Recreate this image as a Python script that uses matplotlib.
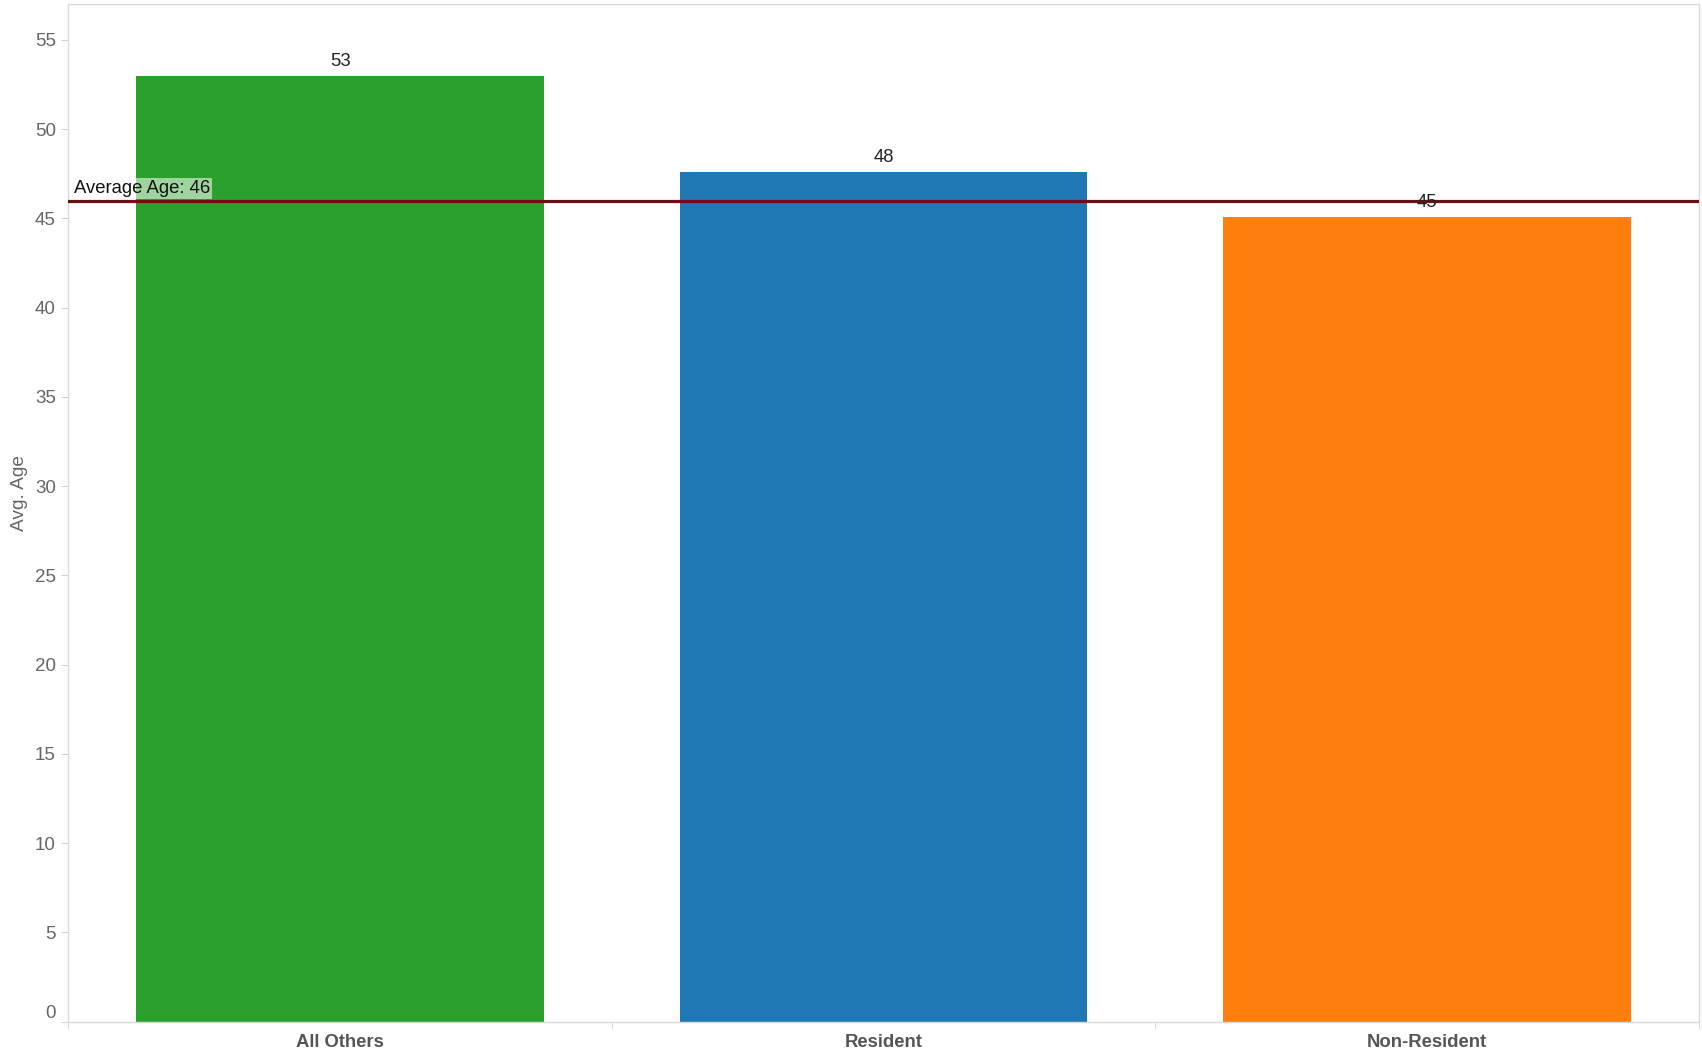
import matplotlib.pyplot as plt
from matplotlib.ticker import FixedLocator
import matplotlib.transforms as mtransforms

plt.rcParams['font.family'] = ['Liberation Sans', 'DejaVu Sans']

categories = ["All Others", "Resident", "Non-Resident"]
avg_age = [53.0, 47.6, 45.1]
bar_colors = ["#2ca02c", "#1f77b4", "#ff7f0e"]
overall_avg = 46.0
y_ticks = [0, 5, 10, 15, 20, 25, 30, 35, 40, 45, 50, 55]

fig = plt.figure(figsize=(17.02, 10.51), dpi=100)
ax = fig.add_axes([0.0402, 0.028, 0.958, 0.968])

x = range(len(categories))
bars = ax.bar(x, avg_age, width=0.75, color=bar_colors, zorder=2)

for xi, v in zip(x, avg_age):
    ax.annotate(f"{v:.0f}", (xi, v), xytext=(0, 4), textcoords="offset points",
                ha="center", va="bottom", fontsize=13.3, color="#222222", zorder=4)

# reference line for the overall mean
ax.axhline(overall_avg, color="#6e0d16", linewidth=2.3, zorder=3)
trans = mtransforms.blended_transform_factory(ax.transAxes, ax.transData)
ax.annotate(f"Average Age: {overall_avg:.0f}", (0.0, overall_avg), xycoords=trans,
            xytext=(4, 2.5), textcoords="offset points", ha="left", va="bottom",
            fontsize=13.3, color="#111111", zorder=5,
            bbox=dict(boxstyle="square,pad=0.12", facecolor="white", edgecolor="none", alpha=0.55))

ax.set_xlim(-0.5, 2.5)
ax.set_ylim(0, 57)
ax.set_yticks(y_ticks)
ax.set_xticks(list(x))
ax.set_xticklabels(categories, fontsize=13.3, fontweight="bold", color="#555555")
ax.xaxis.set_minor_locator(FixedLocator([-0.5, 0.5, 1.5, 2.5]))
ax.tick_params(axis="x", which="major", length=0, pad=9)
ax.tick_params(axis="x", which="minor", length=5, color="#d0d0d0")
ax.tick_params(axis="y", length=5, color="#d0d0d0", labelsize=13.5, labelcolor="#666666", pad=4)

# keep the bottom tick label inside the axis
fig.canvas.draw()
ax.get_yticklabels()[0].set_verticalalignment("bottom")

ax.set_ylabel("Avg. Age", fontsize=13.8, color="#666666")
ax.yaxis.set_label_coords(-0.025, 0.52)

for s in ax.spines.values():
    s.set_color("#d9d9d9")
    s.set_linewidth(1)

fig.savefig("out.png", dpi=100)
